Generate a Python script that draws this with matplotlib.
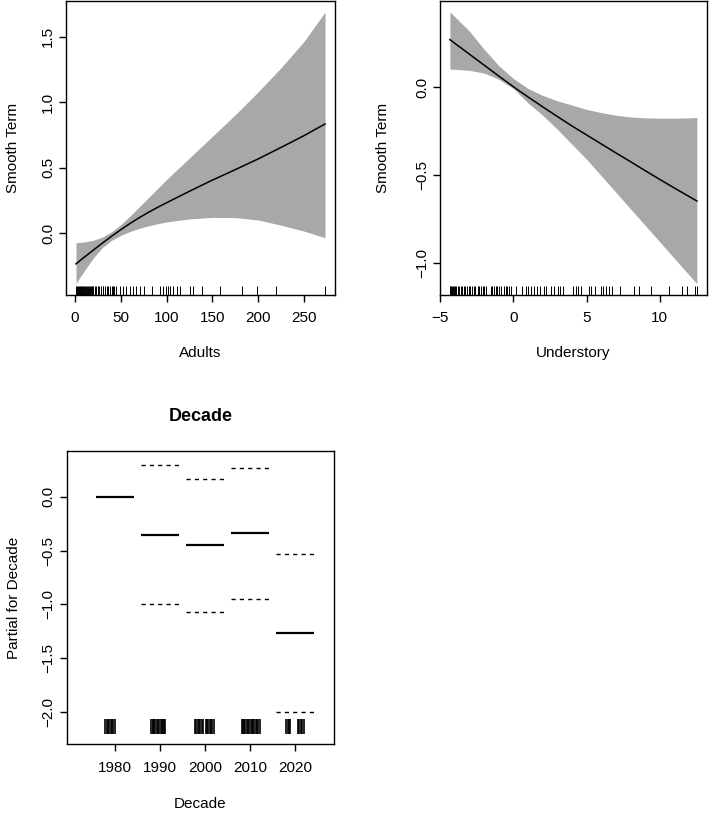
import matplotlib
matplotlib.use("Agg")
import numpy as np
import matplotlib.pyplot as plt
import matplotlib.transforms as mtransforms
from matplotlib.ticker import FixedLocator, FuncFormatter

plt.rcParams["font.family"] = ["Liberation Sans", "DejaVu Sans"]

# --- smooth of Adults ---
adults_x = [1, 10, 20, 30, 40, 50, 60, 70, 80, 90, 100, 125, 150, 175, 200, 225, 250, 273]
adults_fit = [-0.236, -0.185, -0.130, -0.076, -0.024, 0.026, 0.073, 0.117, 0.158, 0.196, 0.232,
              0.320, 0.405, 0.485, 0.567, 0.655, 0.745, 0.834]
adults_upper = [-0.074, -0.068, -0.055, -0.030, 0.010, 0.065, 0.130, 0.200, 0.270, 0.340, 0.410,
                0.575, 0.740, 0.905, 1.080, 1.265, 1.465, 1.690]
adults_lower = [-0.385, -0.290, -0.190, -0.110, -0.055, -0.018, 0.012, 0.036, 0.055, 0.071, 0.085,
                0.108, 0.120, 0.118, 0.100, 0.060, 0.015, -0.036]
adults_rug = [1, 2, 3, 4, 5, 6, 7, 8, 9, 10, 11, 12, 13, 14, 15, 16, 17, 18, 19, 20, 22, 23, 25,
              26, 28, 30, 31, 33, 35, 36, 38, 40, 41, 43, 45, 49, 52, 56, 60, 63, 67, 71, 75,
              83.5, 93, 96, 99, 102, 104, 107, 111, 115, 125, 129, 139, 158.5, 182, 199, 220, 272.5]
adults_xticks = [0, 50, 100, 150, 200, 250]
adults_yticks = [0.0, 0.5, 1.0, 1.5]

# --- smooth of Understory ---
under_x = [-4.34, -3, -2, -1, 0, 1, 2, 3, 4, 5, 6, 7, 8, 9, 10, 11, 12, 12.54]
under_fit = [0.270, 0.187, 0.125, 0.063, 0.002, -0.056, -0.112, -0.167, -0.221, -0.272, -0.323,
             -0.374, -0.424, -0.475, -0.525, -0.574, -0.622, -0.648]
under_upper = [0.428, 0.318, 0.215, 0.122, 0.049, -0.008, -0.047, -0.078, -0.102, -0.127, -0.145,
               -0.160, -0.170, -0.175, -0.177, -0.177, -0.175, -0.173]
under_lower = [0.103, 0.095, 0.080, 0.045, -0.008, -0.090, -0.160, -0.240, -0.325, -0.410, -0.504,
               -0.598, -0.692, -0.786, -0.880, -0.974, -1.068, -1.118]
under_rug = [-4.34, -4.3, -4.25, -4.2, -4.1, -4.04, -4.0, -3.9, -3.81, -3.7, -3.59, -3.5, -3.4,
             -3.3, -3.15, -3.05, -2.95, -2.8, -2.7, -2.6, -2.45, -2.35, -2.22, -2.1, -1.99, -1.88,
             -1.54, -1.43, -1.32, -1.2, -1.09, -0.98, -0.86, -0.64, -0.52, -0.41, -0.3, -0.18,
             0.2, 0.57, 0.84, 1.0, 1.18, 1.41, 1.59, 1.79, 2.09, 2.25, 2.54, 2.77, 3.04, 3.22,
             3.4, 4.09, 4.25, 4.41, 4.59, 5.2, 5.32, 5.55, 5.96, 6.14, 6.35, 6.53, 6.71, 7.26,
             8.24, 8.58, 9.44, 10.63, 11.54, 11.88, 12.38, 12.56]
under_xticks = [-5, 0, 5, 10]
under_yticks = [-1.0, -0.5, 0.0]

# --- parametric Decade term ---
decades = [1980, 1990, 2000, 2010, 2020]
decade_fit = [0.0, -0.353, -0.449, -0.340, -1.270]
decade_upper = [np.nan, 0.294, 0.167, 0.270, -0.535]
decade_lower = [np.nan, -0.996, -1.070, -0.953, -2.000]
decade_rug = [1977.8, 1978.2, 1978.5, 1978.8, 1979.1, 1979.4, 1979.7, 1980.1,
              1988.1, 1988.4, 1988.6, 1988.8, 1989.0, 1989.3, 1989.6, 1989.9, 1990.2, 1990.4,
              1990.7, 1991.0, 1991.2,
              1997.8, 1998.1, 1998.4, 1998.7, 1999.0, 1999.3, 1999.6, 2000.2, 2000.5, 2000.8,
              2001.1, 2001.4, 2001.7, 2002.0,
              2008.2, 2008.5, 2008.8, 2009.0, 2009.3, 2009.6, 2009.9, 2010.2, 2010.5, 2010.8,
              2011.0, 2011.3, 2011.6, 2011.9, 2012.2,
              2018.1, 2018.4, 2018.7, 2019.0, 2020.7, 2021.0, 2021.3, 2021.7, 2022.0]
decade_yticks = [-2.0, -1.5, -1.0, -0.5, 0.0]

BAND = "#a8a8a8"
FS = 11


def _num(v, _pos=None):
    return f"{v:.1f}".replace("-", "\u2212")


def _int(v, _pos=None):
    return f"{v:.0f}".replace("-", "\u2212")


def _style(ax, xticks, yticks, xfmt, xlabel, ylabel, xlab_y, ylab_x):
    for sp in ax.spines.values():
        sp.set_linewidth(1.0)
    ax.xaxis.set_major_locator(FixedLocator(xticks))
    ax.yaxis.set_major_locator(FixedLocator(yticks))
    ax.xaxis.set_major_formatter(FuncFormatter(xfmt))
    ax.yaxis.set_major_formatter(FuncFormatter(_num))
    ax.tick_params(axis="both", direction="out", length=5, width=1.0, labelsize=FS)
    ax.tick_params(axis="x", pad=7)
    ax.tick_params(axis="y", pad=3, labelrotation=90)
    plt.setp(ax.get_yticklabels(), va="center")
    ax.set_xlabel(xlabel, fontsize=FS)
    ax.set_ylabel(ylabel, fontsize=FS)
    ax.xaxis.set_label_coords(0.5, xlab_y)
    ax.yaxis.set_label_coords(ylab_x, 0.5)
    ax.xaxis.label.set_va("center")
    ax.yaxis.label.set_va("center")


def _rug(ax, values):
    trans = mtransforms.blended_transform_factory(ax.transData, ax.transAxes)
    ax.vlines(values, 0, 0.028, transform=trans, colors="black", linewidth=0.7)


fig = plt.figure(figsize=(7.09, 8.14), dpi=100)

# top left
ax1 = fig.add_axes([0.0931, 0.6382, 0.3794, 0.3606])
ax1.fill_between(adults_x, adults_lower, adults_upper, color=BAND, linewidth=0)
ax1.plot(adults_x, adults_fit, color="black", linewidth=1.1)
_rug(ax1, adults_rug)
ax1.set_xlim(-9.9, 283.9)
ax1.set_ylim(-0.47, 1.775)
_style(ax1, adults_xticks, adults_yticks, _int, "Adults", "Smooth Term", -0.2, -0.197)

# top right
ax2 = fig.add_axes([0.6206, 0.6382, 0.3762, 0.3606])
ax2.fill_between(under_x, under_lower, under_upper, color=BAND, linewidth=0)
ax2.plot(under_x, under_fit, color="black", linewidth=1.1)
_rug(ax2, under_rug)
ax2.set_xlim(-5.015, 13.215)
ax2.set_ylim(-1.18, 0.49)
_style(ax2, under_xticks, under_yticks, _int, "Understory", "Smooth Term", -0.2, -0.215)

# bottom left
ax3 = fig.add_axes([0.0938, 0.0856, 0.3773, 0.3607])
dec = np.array(decades, dtype=float)
ax3.hlines(decade_fit, dec - 4.2, dec + 4.2, colors="black", linewidth=1.6)
ax3.hlines(decade_upper, dec - 4.2, dec + 4.2, colors="black", linewidth=1.0,
           linestyles=(0, (3, 3)))
ax3.hlines(decade_lower, dec - 4.2, dec + 4.2, colors="black", linewidth=1.0,
           linestyles=(0, (3, 3)))
ax3.vlines(decade_rug, -2.206, -2.067, colors="black", linewidth=1.2)
ax3.set_xlim(1969.3, 2028.7)
ax3.set_ylim(-2.30, 0.427)
_style(ax3, decades, decade_yticks, _int, "Decade", "Partial for Decade", -0.203, -0.197)
ax3.text(0.5, 1.116, "Decade", transform=ax3.transAxes, ha="center", va="center",
         fontsize=13, fontweight="bold")

fig.savefig("out.png", dpi=100)
